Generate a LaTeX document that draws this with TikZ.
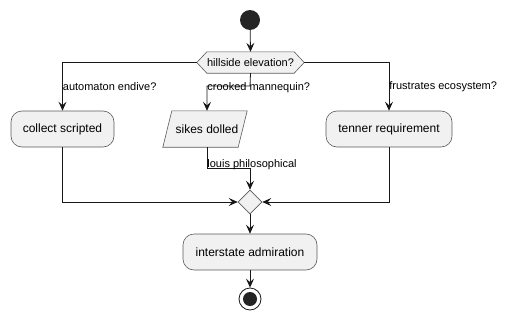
\documentclass[tikz,border=0pt]{standalone}
\usepackage{fontspec}
\setmainfont{Liberation Sans}
\usetikzlibrary{arrows.meta,shapes.geometric}
\definecolor{boxfill}{HTML}{F1F1F1}
\definecolor{boxline}{HTML}{5A5A5A}
\definecolor{ink}{HTML}{181818}
\begin{document}
\begin{tikzpicture}[x=1pt,y=-1pt,
  every node/.style={font=\fontsize{12}{14}\selectfont},
  act/.style={draw=boxline,line width=0.6pt,fill=boxfill,rounded corners=11pt,
    minimum height=36pt,inner xsep=0pt,inner ysep=0pt},
  flow/.style={draw=ink,line width=0.8pt,-{Stealth[length=9pt,width=8pt,inset=3.5pt]}},
  shapeline/.style={boxline,line width=0.6pt,fill=boxfill},
  lbl/.style={font=\fontsize{11}{13}\selectfont,inner sep=0pt,anchor=west}]
\useasboundingbox (0,0) rectangle (510,321);

% start and end markers
\node[circle,fill=ink!95,minimum size=20pt,inner sep=0pt] (start) at (250,20) {};
\node[circle,draw=ink,line width=0.8pt,fill=white,minimum size=22pt,inner sep=0pt] (stop) at (250,299) {};
\fill[ink!95] (stop.center) circle (7pt);

% decision hexagon
\node[minimum width=107pt,minimum height=21pt,inner sep=0pt] (dec) at (250.5,62.5) {};
\draw[shapeline]
  (dec.west) -- ([xshift=10pt]dec.north west) -- ([xshift=-10pt]dec.north east)
  -- (dec.east) -- ([xshift=-10pt]dec.south east) -- ([xshift=10pt]dec.south west) -- cycle;
\node[font=\fontsize{11}{13}\selectfont] at (dec) {hillside elevation?};

% activities
\node[act,minimum width=103pt] (coll) at (62.5,129) {collect scripted};
\node[act,minimum width=126pt] (ten) at (389,129) {tenner requirement};

% input/output parallelogram
\node[minimum width=75pt,minimum height=36pt,inner sep=0pt] (sikes) at (209.5,129) {};
\draw[shapeline]
  ([xshift=-9pt]sikes.south west) -- (sikes.north west) -- (sikes.north east)
  -- ([xshift=-9pt]sikes.south east) -- cycle;
\node at ([xshift=-2.5pt]sikes.center) {sikes dolled};

\node[diamond,shapeline,draw=boxline,minimum width=24pt,minimum height=24pt,inner sep=0pt] (merge) at (250,202) {};
\node[act,minimum width=134pt] (inter) at (250,252) {interstate admiration};

% connectors
\draw[flow] (start) -- (dec.north);
\draw[flow] (dec.west) -| node[lbl,pos=0.75] {automaton endive?} (coll.north);
\draw[flow] (dec.east) -| node[lbl,pos=0.75] {frustrates ecosystem?} (ten.north);
\coordinate (m1) at (250,86);
\coordinate (m2) at (207,86);
\draw[flow] (dec.south) -- (m1) -- (m2) -- node[lbl,pos=0.08] {crooked mannequin?} (sikes.north -| m2);
\coordinate (s1) at (207,168);
\coordinate (s2) at (250,168);
\draw[flow] (sikes.south -| s1) -- node[lbl,pos=0.82] {louis philosophical} (s1) -- (s2) -- (merge.north);
\draw[flow] (coll.south) |- (merge.west);
\draw[flow] (ten.south) |- (merge.east);
\draw[flow] (merge.south) -- (inter.north);
\draw[flow] (inter.south) -- (stop.north);
\end{tikzpicture}
\end{document}
